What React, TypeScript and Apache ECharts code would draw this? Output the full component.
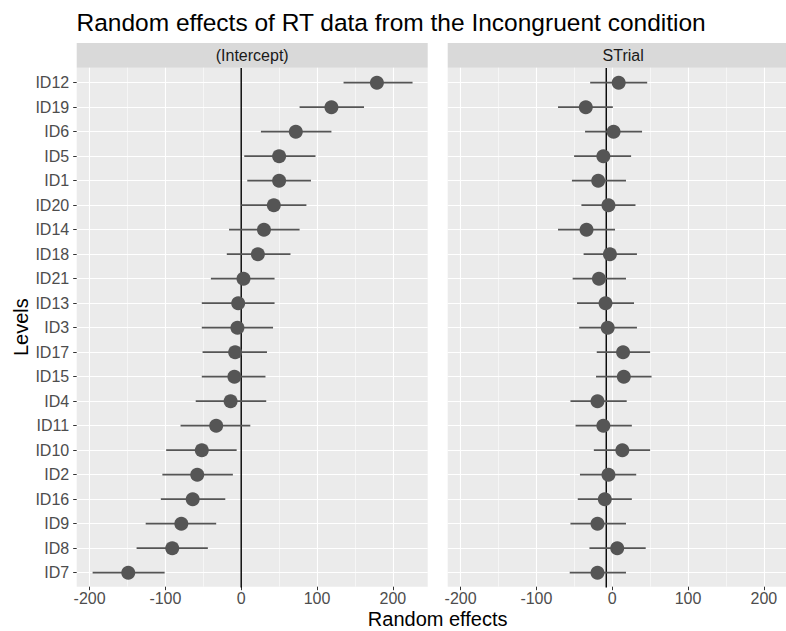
import React, { useEffect, useRef } from "react";
import * as echarts from "echarts";

const levels = ["ID12", "ID19", "ID6", "ID5", "ID1", "ID20", "ID14", "ID18", "ID21", "ID13", "ID3", "ID17", "ID15", "ID4", "ID11", "ID10", "ID2", "ID16", "ID9", "ID8", "ID7"];

const interceptEst = [179, 119, 72, 50, 50, 43, 30, 22, 3, -4, -5, -8, -9, -14, -33, -52, -58, -64, -79, -91, -149];
const interceptLo = [135, 77, 26, 4, 8, 0, -16, -19, -40, -52, -52, -51, -52, -60, -80, -99, -104, -106, -126, -138, -196];
const interceptHi = [226, 162, 119, 98, 92, 86, 77, 65, 44, 44, 42, 34, 32, 33, 12, -6, -11, -21, -33, -44, -101];

const strialEst = [17, -28, 10, -4, -11, 3, -27, 5, -10, -1, 2, 23, 24, -12, -4, 22, 3, -2, -12, 15, -12];
const strialLo = [-22, -66, -29, -44, -47, -34, -66, -31, -46, -40, -37, -13, -14, -49, -42, -17, -36, -39, -49, -23, -50];
const strialHi = [56, 9, 49, 34, 27, 40, 12, 42, 27, 38, 42, 60, 62, 28, 35, 60, 41, 35, 27, 54, 27];

const facetNames = ["(Intercept)", "STrial"];
const xTicks = [-200, -100, 0, 100, 200];
const refLine = 0;

const FONT = "Liberation Sans, Arial, sans-serif";
const PANEL_W = 351;
const PANEL_LEFTS = [76.7, 447.7];
const PANEL_TOP = 67.7;
const PANEL_H = 519;
const X_MIN = -217;
const X_MAX = 246;
const CAT_TOP = 70.45;
const CAT_H = 514.5;
const POINT_COLOR = "#555555";

export default function App() {
  const ref = useRef<HTMLDivElement>(null);

  useEffect(() => {
    if (!ref.current) return;
    const chart = echarts.init(ref.current, undefined, { renderer: "svg" });
    const scale = PANEL_W / (X_MAX - X_MIN);
    const gridLeft = (L: number) => L + (xTicks[0] - X_MIN) * scale;
    const gridW = (xTicks[xTicks.length - 1] - xTicks[0]) * scale;

    const grids: any[] = [];
    const xAxes: any[] = [];
    const yAxes: any[] = [];
    // panel backgrounds (grids 0, 1)
    PANEL_LEFTS.forEach((L, i) => {
      grids.push({ left: L, top: PANEL_TOP, width: PANEL_W, height: PANEL_H, show: true, backgroundColor: "#EBEBEB", borderWidth: 0 });
      xAxes.push({ gridIndex: i, type: "value", show: false, min: 0, max: 1, axisLine: { onZero: false } });
      yAxes.push({ gridIndex: i, type: "value", show: false, min: 0, max: 1, axisLine: { onZero: false } });
    });
    // vertical gridlines, x tick labels (grids 2, 3)
    PANEL_LEFTS.forEach((L, i) => {
      const gi = 2 + i;
      grids.push({ left: gridLeft(L), top: PANEL_TOP, width: gridW, height: PANEL_H, show: false });
      xAxes.push({
        gridIndex: gi,
        type: "value",
        min: xTicks[0],
        max: xTicks[xTicks.length - 1],
        interval: 100,
        axisLine: { show: false, onZero: false },
        axisTick: { show: true, length: 3.5, lineStyle: { color: "#333333", width: 1 } },
        axisLabel: { color: "#4D4D4D", fontSize: 16, fontFamily: FONT, margin: 4 },
        splitLine: { show: true, lineStyle: { color: "#FFFFFF", width: 1.1 } },
        minorTick: { show: false, splitNumber: 2 },
        minorSplitLine: { show: true, lineStyle: { color: "#FFFFFF", width: 0.55 } },
      });
      yAxes.push({ gridIndex: gi, type: "value", show: false, min: 0, max: 1, axisLine: { onZero: false } });
    });
    // data, horizontal gridlines, y labels (grids 4, 5)
    PANEL_LEFTS.forEach((L, i) => {
      const gi = 4 + i;
      grids.push({ left: L, top: CAT_TOP, width: PANEL_W, height: CAT_H, show: false });
      xAxes.push({ gridIndex: gi, type: "value", show: false, min: X_MIN, max: X_MAX, axisLine: { onZero: false } });
      yAxes.push({
        gridIndex: gi,
        type: "category",
        data: levels,
        inverse: true,
        axisLine: { show: false, onZero: false },
        axisTick: { show: i === 0, alignWithLabel: true, length: 3.5, lineStyle: { color: "#333333", width: 1 } },
        axisLabel: { show: i === 0, color: "#4D4D4D", fontSize: 16, fontFamily: FONT, margin: 7.5 },
        splitLine: { show: true, alignWithLabel: true, lineStyle: { color: "#FFFFFF", width: 1.1 } },
      });
    });

    const panels = [
      { est: interceptEst, lo: interceptLo, hi: interceptHi },
      { est: strialEst, lo: strialLo, hi: strialHi },
    ];
    const series: any[] = [];
    panels.forEach((p, i) => {
      const ai = 4 + i;
      // vertical reference line at x = 0, drawn in the data grid as a thin filled rect
      // spanning the full panel height (0.6 band of padding beyond first/last level)
      series.push({
        type: "custom",
        xAxisIndex: ai,
        yAxisIndex: ai,
        clip: false,
        z: 5,
        silent: true,
        encode: { x: 0, y: [1, 2] },
        data: [[refLine, 0, levels.length - 1]],
        renderItem: (params: any, api: any) => {
          const band = api.size([0, 1])[1];
          const top = api.coord([api.value(0), api.value(1)]);
          const bot = api.coord([api.value(0), api.value(2)]);
          const y0 = Math.min(top[1], bot[1]) - band * 0.6;
          const y1 = Math.max(top[1], bot[1]) + band * 0.6;
          return {
            type: "rect",
            shape: { x: top[0] - 0.7, y: y0, width: 1.4, height: y1 - y0 },
            style: { fill: "#000000" },
          };
        },
      });
      // error bars
      series.push({
        type: "custom",
        xAxisIndex: ai,
        yAxisIndex: ai,
        clip: false,
        z: 6,
        encode: { x: [0, 1], y: 2 },
        data: levels.map((_, k) => [p.lo[k], p.hi[k], k]),
        renderItem: (params: any, api: any) => {
          const y = api.value(2);
          const a = api.coord([api.value(0), y]);
          const b = api.coord([api.value(1), y]);
          return {
            type: "line",
            shape: { x1: a[0], y1: a[1], x2: b[0], y2: b[1] },
            style: { stroke: POINT_COLOR, lineWidth: 1.8 },
          };
        },
      });
      // point estimates
      series.push({
        type: "scatter",
        xAxisIndex: ai,
        yAxisIndex: ai,
        clip: false,
        z: 7,
        symbol: "circle",
        symbolSize: 14,
        itemStyle: { color: POINT_COLOR, opacity: 1 },
        data: levels.map((name, k) => [p.est[k], name]),
      });
    });

    const graphics: any[] = [];
    PANEL_LEFTS.forEach((L, i) => {
      graphics.push({
        type: "rect",
        shape: { x: L, y: 43, width: PANEL_W, height: PANEL_TOP - 43 },
        style: { fill: "#D9D9D9" },
        silent: true,
      });
      graphics.push({
        type: "text",
        x: L + PANEL_W / 2,
        y: (43 + PANEL_TOP) / 2,
        style: { text: facetNames[i], fill: "#1A1A1A", fontSize: 16, fontFamily: FONT, align: "center", verticalAlign: "middle" },
        silent: true,
      });
    });
    graphics.push({
      type: "text",
      x: (PANEL_LEFTS[0] + PANEL_LEFTS[1] + PANEL_W) / 2,
      y: 619,
      style: { text: "Random effects", fill: "#000000", fontSize: 20, fontFamily: FONT, align: "center", verticalAlign: "middle" },
      silent: true,
    });
    graphics.push({
      type: "text",
      x: 20.5,
      y: PANEL_TOP + PANEL_H / 2,
      rotation: Math.PI / 2,
      style: { text: "Levels", fill: "#000000", fontSize: 20, fontFamily: FONT, align: "center", verticalAlign: "middle" },
      silent: true,
    });
    graphics.push({
      type: "text",
      x: 76.5,
      y: 22,
      style: { text: "Random effects of RT data from the Incongruent condition", fill: "#000000", fontSize: 24.5, fontFamily: FONT, align: "left", verticalAlign: "middle" },
      silent: true,
    });

    chart.setOption({
      animation: false,
      backgroundColor: "#FFFFFF",
      grid: grids,
      xAxis: xAxes,
      yAxis: yAxes,
      series,
      graphic: graphics,
    });
    return () => chart.dispose();
  }, []);

  return <div ref={ref} style={{ position: "fixed", left: 0, top: 0, width: 786, height: 631 }} />;
}
